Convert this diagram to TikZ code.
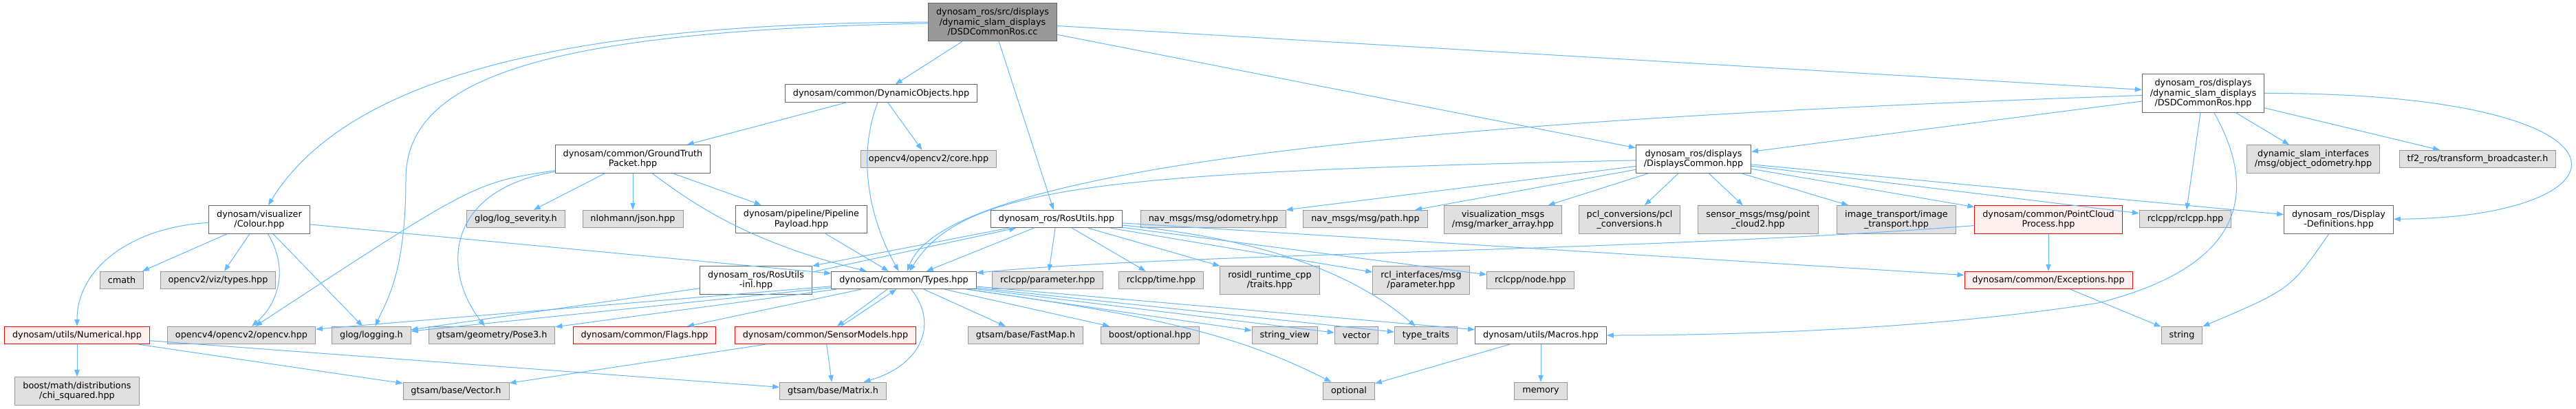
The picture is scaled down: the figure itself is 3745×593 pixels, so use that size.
\documentclass[tikz,border=0pt]{standalone}
\usepackage{fontspec}
\setmainfont{DejaVu Sans}
\usepackage{tikz}
\usetikzlibrary{arrows.meta}
\definecolor{edgeblue}{HTML}{63B8FF}
\definecolor{boxline}{HTML}{666666}
\definecolor{extline}{HTML}{999999}
\definecolor{extfill}{HTML}{E0E0E0}
\definecolor{truncfill}{HTML}{FFF0F0}
\definecolor{rootfill}{HTML}{999999}
\begin{document}
\begin{tikzpicture}[x=0.75pt, y=-0.75pt, >={Triangle[length=7.5pt,width=5.5pt]},
      font=\fontsize{9.6}{10.75}\selectfont,
      hdr/.style={draw=boxline, fill=white, line width=0.75pt, inner xsep=8.6pt, inner ysep=2pt, minimum height=19pt, align=center},
      ext/.style={hdr, draw=extline, fill=extfill},
      trunc/.style={hdr, draw=red, fill=truncfill},
      srcfile/.style={hdr, fill=rootfill},
      two/.style={minimum height=30.5pt},
      three/.style={minimum height=41.5pt},
      dep/.style={->, draw=edgeblue, line width=0.75pt}]
      \path[fill=white, use as bounding box] (0,0) rectangle (3745,593);
      \node[srcfile, three] (root) at (1443,32) {dynosam\_ros/src/displays\\/dynamic\_slam\_displays\\/DSDCommonRos.cc};
      \node[hdr] (dynobj) at (1281,135.5) {dynosam/common/DynamicObjects.hpp};
      \node[hdr, three] (dsdhpp) at (3203,135.5) {dynosam\_ros/displays\\/dynamic\_slam\_displays\\/DSDCommonRos.hpp};
      \node[hdr, two] (gt) at (920,231) {dynosam/common/GroundTruth\\Packet.hpp};
      \node[ext] (core) at (1350,231) {opencv4/opencv2/core.hpp};
      \node[hdr, two] (dc) at (2462,231) {dynosam\_ros/displays\\/DisplaysCommon.hpp};
      \node[ext, two] (dsi) at (3363,231) {dynamic\_slam\_interfaces\\/msg/object\_odometry.hpp};
      \node[ext] (tf2) at (3602,231) {tf2\_ros/transform\_broadcaster.h};
      \node[hdr, two] (colour) at (377,319) {dynosam/visualizer\\/Colour.hpp};
      \node[ext] (logsev) at (750,318) {glog/log\_severity.h};
      \node[ext] (json) at (920,318) {nlohmann/json.hpp};
      \node[hdr, two] (pipeline) at (1165,318.5) {dynosam/pipeline/Pipeline\\Payload.hpp};
      \node[hdr] (rosutils) at (1536,318) {dynosam\_ros/RosUtils.hpp};
      \node[ext] (odom) at (1764,318) {nav\_msgs/msg/odometry.hpp};
      \node[ext] (path) at (1985,318) {nav\_msgs/msg/path.hpp};
      \node[ext, two] (markers) at (2185,319) {visualization\_msgs\\/msg/marker\_array.hpp};
      \node[ext, two] (pcl) at (2369,319) {pcl\_conversions/pcl\\\_conversions.h};
      \node[ext, two] (cloud2) at (2556,319) {sensor\_msgs/msg/point\\\_cloud2.hpp};
      \node[ext, two] (imgtr) at (2757,319) {image\_transport/image\\\_transport.hpp};
      \node[trunc, two] (pcp) at (2978,319) {dynosam/common/PointCloud\\Process.hpp};
      \node[ext] (rclcpp) at (3177,318) {rclcpp/rclcpp.hpp};
      \node[hdr, two] (dispdef) at (3400,319) {dynosam\_ros/Display\\-Definitions.hpp};
      \node[ext] (cmath) at (177,407) {cmath};
      \node[ext] (viztypes) at (317,407) {opencv2/viz/types.hpp};
      \node[hdr, two] (rosinl) at (1099,407) {dynosam\_ros/RosUtils\\-inl.hpp};
      \node[hdr] (types) at (1314,407) {dynosam/common/Types.hpp};
      \node[ext] (param) at (1523,407) {rclcpp/parameter.hpp};
      \node[ext] (time) at (1688,407) {rclcpp/time.hpp};
      \node[ext, two] (traits) at (1846,407) {rosidl\_runtime\_cpp\\/traits.hpp};
      \node[ext, two] (rclparam) at (2066,407) {rcl\_interfaces/msg\\/parameter.hpp};
      \node[ext] (rclnode) at (2225,407) {rclcpp/node.hpp};
      \node[trunc] (except) at (2978,407) {dynosam/common/Exceptions.hpp};
      \node[trunc] (numerical) at (112,487) {dynosam/utils/Numerical.hpp};
      \node[ext] (opencv) at (351,487) {opencv4/opencv2/opencv.hpp};
      \node[ext] (logging) at (540,487) {glog/logging.h};
      \node[ext] (pose3) at (715,487) {gtsam/geometry/Pose3.h};
      \node[trunc] (flags) at (937,487) {dynosam/common/Flags.hpp};
      \node[trunc] (sensor) at (1200,487) {dynosam/common/SensorModels.hpp};
      \node[ext] (fastmap) at (1491,487) {gtsam/base/FastMap.h};
      \node[ext] (boostopt) at (1672,487) {boost/optional.hpp};
      \node[ext] (strview) at (1868,487) {string\_view};
      \node[ext] (vector) at (1972,487) {vector};
      \node[ext] (typetraits) at (2073,487) {type\_traits};
      \node[hdr] (macros) at (2240,487) {dynosam/utils/Macros.hpp};
      \node[ext] (string) at (3172,487) {string};
      \node[ext, two] (chisq) at (112,568) {boost/math/distributions\\/chi\_squared.hpp};
      \node[ext] (vectorh) at (663,568) {gtsam/base/Vector.h};
      \node[ext] (matrix) at (1211,568) {gtsam/base/Matrix.h};
      \node[ext] (optional) at (1961,568) {optional};
      \node[ext] (memory) at (2240,568) {memory};
      \draw[dep] (root) .. controls (800,33) and (500,120) .. (colour);
      \draw[dep] (root) .. controls (800,45) and (590,110) .. (590,260) .. controls (590,400) and (560,440) .. (logging);
      \draw[dep] (root) -- (dynobj);   \draw[dep] (root) -- (rosutils);
      \draw[dep] (root) -- (dc);       \draw[dep] (root) -- (dsdhpp);
      \draw[dep] (dynobj) -- (gt);     \draw[dep] (dynobj) -- (core);
      \draw[dep] (dynobj) .. controls (1245,230) and (1265,320) .. (types);
      \draw[dep] (gt) .. controls (690,265) .. (opencv);
      \draw[dep] (gt) .. controls (650,275) and (640,390) .. (pose3);
      \draw[dep] (gt) -- (logsev);     \draw[dep] (gt) -- (json);
      \draw[dep] (gt) .. controls (1000,290) and (1080,350) .. (types);
      \draw[dep] (gt) -- (pipeline);   \draw[dep] (pipeline) -- (types);
      \draw[dep] (colour) .. controls (190,330) and (112,390) .. (numerical);
      \draw[dep] (colour) -- (cmath);  \draw[dep] (colour) -- (viztypes);
      \draw[dep] (colour) .. controls (420,390) and (405,440) .. (opencv);
      \draw[dep] (colour) -- (logging); \draw[dep] (colour) -- (types);
      \draw[dep] (numerical) -- (chisq); \draw[dep] (numerical) -- (vectorh); \draw[dep] (numerical) -- (matrix);
      \draw[dep] (rosinl) -- (logging);
      \draw[dep] ([yshift=9pt]rosinl.east) -- ([xshift=-44pt]rosutils.south);
      \draw[dep] ([xshift=-52pt]rosutils.south) -- (rosinl.north east);
      \draw[dep] (rosutils) -- (types);  \draw[dep] (rosutils) -- (param);
      \draw[dep] (rosutils) -- (time);   \draw[dep] (rosutils) -- (traits);
      \draw[dep] (rosutils) -- (rclparam); \draw[dep] (rosutils) -- (rclnode);
      \draw[dep] (rosutils) .. controls (1820,345) and (1960,390) .. (typetraits);
      \draw[dep] (rosutils) -- (except);
      \draw[dep] (types) -- (opencv);  \draw[dep] (types) -- (logging);
      \draw[dep] (types) -- (pose3);   \draw[dep] (types) -- (flags);
      \draw[dep] ([xshift=-18pt]types.south) -- ([xshift=12.75pt]sensor.north);
      \draw[dep] ([xshift=17pt]sensor.north) -- ([xshift=-8pt]types.south);
      \draw[dep] (types) .. controls (1365,470) and (1340,530) .. (matrix);
      \draw[dep] (types) -- (fastmap); \draw[dep] (types) -- (boostopt);
      \draw[dep] (types) .. controls (1650,455) and (1790,480) .. (optional);
      \draw[dep] (types) -- (strview); \draw[dep] (types) -- (vector);
      \draw[dep] (types) -- (typetraits); \draw[dep] (types) -- (macros);
      \draw[dep] (sensor) -- (vectorh); \draw[dep] (sensor) -- (matrix);
      \draw[dep] (dc) .. controls (1600,250) and (1400,270) .. (types);
      \draw[dep] (dc) -- (odom);     \draw[dep] (dc) -- (path);
      \draw[dep] (dc) -- (markers);  \draw[dep] (dc) -- (pcl);
      \draw[dep] (dc) -- (cloud2);   \draw[dep] (dc) -- (imgtr);
      \draw[dep] (dc) -- (pcp);      \draw[dep] (dc) -- (rclcpp);
      \draw[dep] (dc) -- (dispdef);
      \draw[dep] (dsdhpp) -- (dc);
      \draw[dep] (dsdhpp) .. controls (2200,170) and (1380,230) .. (types);
      \draw[dep] (dsdhpp) .. controls (3290,290) and (3250,390) .. (3050,440) .. controls (2800,480) and (2500,487) .. (macros);
      \draw[dep] (dsdhpp) -- (rclcpp); \draw[dep] (dsdhpp) -- (dsi);
      \draw[dep] (dsdhpp) -- (tf2);
      \draw[dep] (dsdhpp) .. controls (3860,135) and (3840,315) .. (dispdef);
      \draw[dep] (pcp) -- (except);
      \draw[dep] (pcp) .. controls (2400,365) and (1700,368) .. (types);
      \draw[dep] (dispdef) .. controls (3330,420) .. (string);
      \draw[dep] (except) -- (string);
      \draw[dep] (macros) -- (optional); \draw[dep] (macros) -- (memory);
    \end{tikzpicture}
\end{document}
